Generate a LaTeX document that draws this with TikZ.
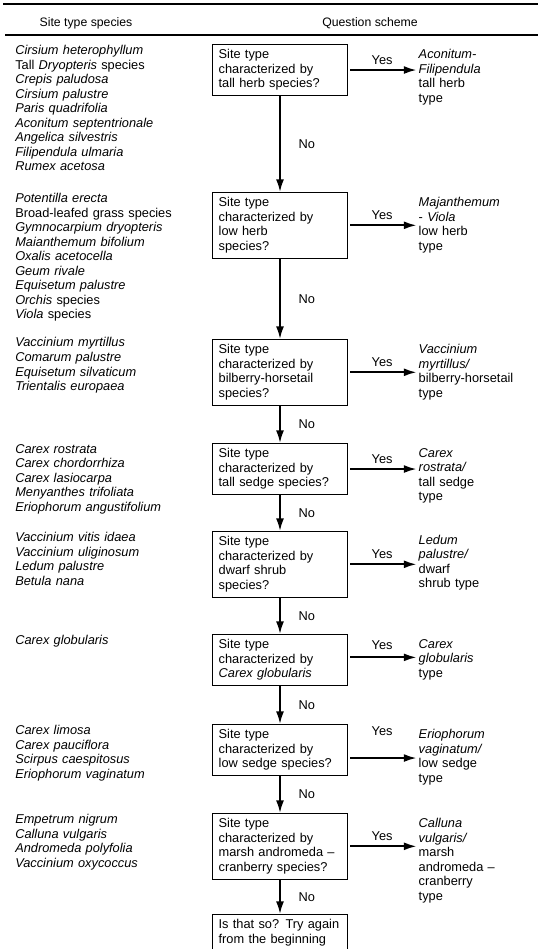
\documentclass[tikz,border=0pt]{standalone}
\usepackage{fontspec}
\setmainfont{Liberation Sans}
\usetikzlibrary{arrows.meta, positioning, calc}
\tikzstyle{question} = [draw, line width=0.7pt, anchor=north, text width=92pt, align=left, inner xsep=4.5pt, inner ysep=3.8pt, font=\fontsize{9.6}{10.9}\selectfont]
\tikzstyle{answer} = [text width=82pt, align=left, inner xsep=1.5pt, inner ysep=3.8pt, font=\fontsize{9.6}{10.9}\selectfont]
\tikzstyle{species} = [anchor=north west, text width=180pt, align=left, inner xsep=1.5pt, inner ysep=3.8pt, yshift=3pt, font=\fontsize{9.6}{10.9}\selectfont]
\tikzstyle{heading} = [font=\fontsize{9.2}{10.9}\selectfont]
\tikzstyle{yesno} = [font=\fontsize{9.6}{10.9}\selectfont]
\tikzstyle{arrow} = [-{Latex[length=9.5pt, width=6pt]}, line width=1.4pt]
\tikzstyle{rule} = [line width=1.4pt]

\begin{document}
\begin{tikzpicture}[x=0.75pt, y=-0.75pt]
            \useasboundingbox (0,0) rectangle (538,949);

            % The table head
            \draw[rule] (3,4) -- (538,4);
            \node[heading] (hd_species) at (86,23) {Site type species};
            \node[heading] (hd_scheme) at (370,23) {Question scheme};
            \draw[rule] (5,35) -- (538,35);
            \coordinate (leftcol) at (13,0);

            % The questions
            \node[question] (b1) at (280,44)
                {Site type\\ characterized by\\ tall herb species?};
            \node[question] (b2) at (280,192)
                {Site type\\ characterized by\\ low herb\\ species?};
            \node[question] (b3) at (280,339)
                {Site type\\ characterized by\\ bilberry-horsetail\\ species?};
            \node[question] (b4) at (280,443)
                {Site type\\ characterized by\\ tall sedge species?};
            \node[question] (b5) at (280,531)
                {Site type\\ characterized by\\ dwarf shrub\\ species?};
            \node[question] (b6) at (280,634)
                {Site type\\ characterized by\\ \textit{Carex globularis}};
            \node[question] (b7) at (280,724)
                {Site type\\ characterized by\\ low sedge species?};
            \node[question] (b8) at (280,813)
                {Site type\\ characterized by\\ marsh andromeda --\\ cranberry species?};
            \node[question] (b9) at (280,914)
                {Is that so? Try again\\ from the beginning};

            % The site types
            \node[answer, right=51.5pt of b1.north east, anchor=north west] (r1)
                {\textit{Aconitum-}\\ \textit{Filipendula}\\ tall herb\\ type};
            \node[answer, right=51.5pt of b2.north east, anchor=north west] (r2)
                {\textit{Majanthemum}\\ - \textit{Viola}\\ low herb\\ type};
            \node[answer, right=51.5pt of b3.north east, anchor=north west] (r3)
                {\textit{Vaccinium}\\ \textit{myrtillus/}\\ bilberry-horsetail\\ type};
            \node[answer, right=51.5pt of b4.north east, anchor=north west] (r4)
                {\textit{Carex}\\ \textit{rostrata/}\\ tall sedge\\ type};
            \node[answer, right=51.5pt of b5.north east, anchor=north west, yshift=1pt] (r5)
                {\textit{Ledum}\\ \textit{palustre/}\\ dwarf\\ shrub type};
            \node[answer, right=51.5pt of b6.north east, anchor=north west] (r6)
                {\textit{Carex}\\ \textit{globularis}\\ type};
            \node[answer, right=51.5pt of b7.north east, anchor=north west] (r7)
                {\textit{Eriophorum}\\ \textit{vaginatum/}\\ low sedge\\ type};
            \node[answer, right=51.5pt of b8.north east, anchor=north west] (r8)
                {\textit{Calluna}\\ \textit{vulgaris/}\\ marsh\\ andromeda --\\ cranberry\\ type};

            % The species lists
            \node[species] (s1) at (b1.north -| leftcol)
                {\textit{Cirsium heterophyllum}\\ Tall \textit{Dryopteris} species\\
                 \textit{Crepis paludosa}\\ \textit{Cirsium palustre}\\
                 \textit{Paris quadrifolia}\\ \textit{Aconitum septentrionale}\\
                 \textit{Angelica silvestris}\\ \textit{Filipendula ulmaria}\\
                 \textit{Rumex acetosa}};
            \node[species] (s2) at (b2.north -| leftcol)
                {\textit{Potentilla erecta}\\ Broad-leafed grass species\\
                 \textit{Gymnocarpium dryopteris}\\ \textit{Maianthemum bifolium}\\
                 \textit{Oxalis acetocella}\\ \textit{Geum rivale}\\
                 \textit{Equisetum palustre}\\ \textit{Orchis} species\\
                 \textit{Viola} species};
            \node[species, yshift=2pt] (s3) at (b3.north -| leftcol)
                {\textit{Vaccinium myrtillus}\\ \textit{Comarum palustre}\\
                 \textit{Equisetum silvaticum}\\ \textit{Trientalis europaea}};
            \node[species] (s4) at (b4.north -| leftcol)
                {\textit{Carex rostrata}\\ \textit{Carex chordorrhiza}\\
                 \textit{Carex lasiocarpa}\\ \textit{Menyanthes trifoliata}\\
                 \textit{Eriophorum angustifolium}};
            \node[species] (s5) at (b5.north -| leftcol)
                {\textit{Vaccinium vitis idaea}\\ \textit{Vaccinium uliginosum}\\
                 \textit{Ledum palustre}\\ \textit{Betula nana}};
            \node[species] (s6) at (b6.north -| leftcol)
                {\textit{Carex globularis}};
            \node[species] (s7) at (b7.north -| leftcol)
                {\textit{Carex limosa}\\ \textit{Carex pauciflora}\\
                 \textit{Scirpus caespitosus}\\ \textit{Eriophorum vaginatum}};
            \node[species] (s8) at (b8.north -| leftcol)
                {\textit{Empetrum nigrum}\\ \textit{Calluna vulgaris}\\
                 \textit{Andromeda polyfolia}\\ \textit{Vaccinium oxycoccus}};

            % The Yes arrows
            \draw[arrow, shorten <=2pt] (b1.east) -- node[yesno, above] {Yes} (b1.east -| r1.west);
            \draw[arrow, shorten <=2pt] (b2.east) -- node[yesno, above] {Yes} (b2.east -| r2.west);
            \draw[arrow, shorten <=2pt] (b3.east) -- node[yesno, above] {Yes} (b3.east -| r3.west);
            \draw[arrow, shorten <=2pt] (b4.east) -- node[yesno, above] {Yes} (b4.east -| r4.west);
            \draw[arrow, shorten <=2pt] (b5.east) -- node[yesno, above] {Yes} (b5.east -| r5.west);
            \draw[arrow, shorten <=2pt] ([yshift=2pt]b6.east) -- node[yesno, above=2pt] {Yes} ([yshift=2pt]b6.east -| r6.west);
            \draw[arrow, shorten <=2pt] ([yshift=-6pt]b7.east) -- node[yesno, above=13pt] {Yes} ([yshift=-6pt]b7.east -| r7.west);
            \draw[arrow, shorten <=2pt] (b8.east) -- node[yesno, above] {Yes} (b8.east -| r8.west);

            % The No arrows
            \draw[arrow] (b1) -- node[yesno, right=10pt] {No} (b2);
            \draw[arrow] (b2) -- node[yesno, right=10pt] {No} (b3);
            \draw[arrow] (b3) -- node[yesno, right=10pt] {No} (b4);
            \draw[arrow] (b4) -- node[yesno, right=10pt] {No} (b5);
            \draw[arrow] (b5) -- node[yesno, right=10pt] {No} (b6);
            \draw[arrow] (b6) -- node[yesno, right=10pt] {No} (b7);
            \draw[arrow] (b7) -- node[yesno, right=10pt] {No} (b8);
            \draw[arrow] (b8) -- node[yesno, right=10pt] {No} (b9);
        \end{tikzpicture}
\end{document}
